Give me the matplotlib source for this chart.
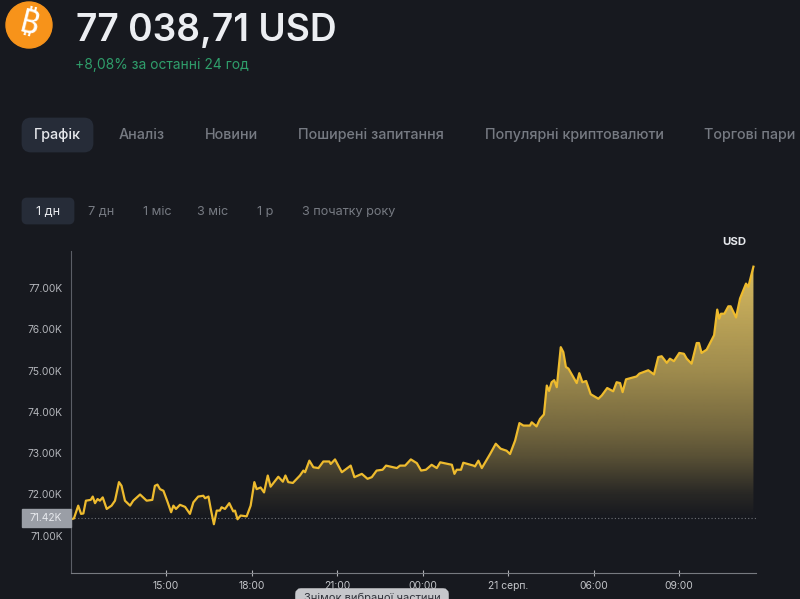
import numpy as np
import matplotlib
matplotlib.use('Agg')
import matplotlib.pyplot as plt
from matplotlib.patches import Circle, FancyBboxPatch, Rectangle

# hours counted from 00:00 on Aug 20, price in thousands of USD
hours = [
    11.67, 11.77, 11.92, 12.02, 12.10, 12.19, 12.36, 12.43, 12.51, 12.60, 12.68, 12.78, 12.92, 13.09, 13.21,
    13.35, 13.44, 13.56, 13.74, 13.85, 14.09, 14.32, 14.52, 14.61, 14.70, 14.79, 14.91, 15.06, 15.18, 15.26,
    15.35, 15.49, 15.67, 15.84, 15.96, 16.13, 16.31, 16.37, 16.49, 16.57, 16.68, 16.78, 16.89, 16.95, 17.07,
    17.22, 17.36, 17.42, 17.51, 17.62, 17.83, 17.97, 18.10, 18.18, 18.32, 18.44, 18.57,
    18.67, 18.94, 19.10, 19.19, 19.29, 19.45, 19.70, 19.82, 19.88, 20.03, 20.17, 20.35, 20.52, 20.73, 20.78,
    20.93, 21.17, 21.48, 21.61, 21.87, 22.07, 22.22, 22.39, 22.60, 22.72, 22.98, 23.10, 23.21, 23.39, 23.59,
    23.80, 23.95, 24.12, 24.32, 24.50, 24.62, 25.03, 25.12, 25.20, 25.35, 25.43, 25.79, 25.84, 25.96, 26.08,
    26.37, 26.57, 26.74, 26.95, 27.07, 27.25, 27.40, 27.54, 27.77,
    27.83, 28.00, 28.12, 28.26, 28.36, 28.44, 28.53, 28.62, 28.71, 28.85, 28.94, 29.03, 29.12, 29.41, 29.50,
    29.61, 29.74, 29.90, 30.17, 30.29, 30.48, 30.69, 30.81, 30.93, 31.02, 31.14, 31.51, 31.61, 31.92, 32.12,
    32.27, 32.39, 32.57, 32.68, 32.82, 33.01, 33.17, 33.27, 33.44, 33.62, 33.70, 33.79, 33.97, 34.23, 34.34,
    34.41, 34.47, 34.59, 34.73, 34.81, 35.00, 35.14, 35.35, 35.43, 35.61,
]
prices = [
    71.40, 71.42, 71.73, 71.53, 71.54, 71.85, 71.87, 71.95, 71.79, 71.89, 71.85, 71.93, 71.65, 71.73, 71.85,
    72.30, 72.21, 71.85, 71.73, 71.85, 72.00, 71.85, 71.87, 72.21, 72.24, 72.13, 72.09, 71.81, 71.57, 71.73,
    71.65, 71.75, 71.70, 71.53, 71.81, 71.95, 71.97, 71.91, 71.95, 71.65, 71.28, 71.61, 71.61, 71.69, 71.65,
    71.79, 71.59, 71.61, 71.40, 71.49, 71.47, 71.73, 72.30, 72.13, 72.17, 72.05, 72.46,
    72.19, 72.43, 72.31, 72.46, 72.30, 72.28, 72.46, 72.58, 72.54, 72.82, 72.66, 72.64, 72.80, 72.80, 72.74,
    72.85, 72.54, 72.70, 72.42, 72.50, 72.38, 72.42, 72.58, 72.60, 72.70, 72.66, 72.64, 72.70, 72.70, 72.85,
    72.76, 72.58, 72.60, 72.72, 72.64, 72.78, 72.72, 72.50, 72.60, 72.60, 72.77, 72.70, 72.68, 72.82, 72.64,
    72.98, 73.23, 73.11, 73.06, 72.98, 73.31, 73.73, 73.67, 73.67,
    73.75, 73.65, 73.83, 73.94, 74.64, 74.51, 74.72, 74.77, 74.60, 75.57, 75.45, 75.09, 75.05, 74.70, 74.94,
    74.72, 74.75, 74.43, 74.32, 74.40, 74.58, 74.50, 74.72, 74.70, 74.48, 74.79, 74.86, 74.93, 75.01, 74.91,
    75.33, 75.35, 75.19, 75.29, 75.23, 75.43, 75.41, 75.29, 75.17, 75.67, 75.67, 75.43, 75.51, 75.86, 76.48,
    76.26, 76.38, 76.38, 76.56, 76.56, 76.29, 76.75, 77.11, 77.03, 77.52,
]
baseline = 71.42
y_ticks = [71, 72, 73, 74, 75, 76, 77]
y_labels = ['71.00K', '72.00K', '73.00K', '74.00K', '75.00K', '76.00K', '77.00K']
x_ticks = [15, 18, 21, 24, 27, 30, 33]
x_labels = ['15:00', '18:00', '21:00', '00:00', '21 серп.', '06:00', '09:00']
tabs = ['Аналіз', 'Новини', 'Поширені запитання', 'Популярні криптовалюти', 'Торгові пари']
periods = ['7 дн', '1 міс', '3 міс', '1 р', 'З початку року']

plt.rcParams['font.family'] = ['Inter', 'DejaVu Sans']
BG = '#17191f'
W, H = 800, 599

fig = plt.figure(figsize=(W / 100, H / 100), dpi=100, facecolor=BG)

# chart area, placed in pixels
ax = fig.add_axes([71 / W, 1 - 572.5 / H, (756 - 71) / W, (572.5 - 251) / H], facecolor=BG)
ax.set_xlim(11.667, 35.70)
ax.set_ylim(70.11, 77.90)

# gradient under the line
levels = np.linspace(baseline, 77.6, 200)
alpha = np.interp(levels, [71.42, 72.0, 72.9, 73.55, 75.0, 77.5], [0, 0.09, 0.33, 0.46, 0.68, 0.95])
grad = np.zeros((200, 1, 4))
grad[:, 0, 0] = 225 / 255
grad[:, 0, 1] = 195 / 255
grad[:, 0, 2] = 100 / 255
grad[:, 0, 3] = alpha
poly = ax.fill_between(hours, prices, baseline, color='none', lw=0)
img = ax.imshow(grad, origin='lower', aspect='auto', interpolation='bilinear',
                extent=[hours[0], hours[-1], baseline, 77.6], zorder=1)
img.set_clip_path(poly.get_paths()[0], transform=ax.transData)
ax.set_xlim(11.667, 35.70)
ax.set_ylim(70.11, 77.90)

ax.axhline(baseline, color='#6f7278', lw=0.8, ls=(0, (1, 2)), zorder=2)
ax.plot(hours, prices, color='#eebb2e', lw=1.6, solid_joinstyle='round', zorder=3)

ax.spines['top'].set_visible(False)
ax.spines['right'].set_visible(False)
ax.spines['left'].set_color('#5b5e66')
ax.spines['bottom'].set_color('#777a80')
ax.set_yticks(y_ticks)
ax.set_yticklabels(y_labels)
ax.set_xticks(x_ticks)
ax.set_xticklabels(x_labels)
ax.tick_params(axis='y', length=0, pad=6, labelsize=7.4, labelcolor='#b4b6bb')
ax.tick_params(axis='x', direction='inout', length=4, width=0.8, color='#b0b2b6', pad=4, labelsize=7.4, labelcolor='#c4c6ca')

# page elements around the chart, in pixel coordinates
ui = fig.add_axes([0, 0, 1, 1], facecolor='none', zorder=5)
ui.set_xlim(0, W)
ui.set_ylim(H, 0)
ui.axis('off')

ui.add_patch(Circle((29, 25), 23, color='#f7931a'))
ui.text(29, 25.5, '₿', family=['Noto Sans', 'Roboto', 'Open Sans', 'Lato', 'Liberation Sans', 'DejaVu Sans'],
        fontweight='bold', color='white', fontsize=24, rotation=-14, ha='center', va='center')

ui.text(76, 41.5, '77 038,71 USD', color='#eceef2', fontsize=26.7, fontweight='semibold', va='baseline')
ui.text(75, 69, '+8,08% за останні 24 год', color='#2f9e6b', fontsize=9.95, va='baseline')

# tabs
ui.add_patch(FancyBboxPatch((23, 119), 69, 32, boxstyle='round,pad=0,rounding_size=8',
                            fc='#262c38', ec='#262c38', lw=2))
ui.text(57.5, 139, 'Графік', color='#e6e8ec', fontsize=10.3, fontweight='medium', ha='center', va='baseline')
for label, x in zip(tabs, [119, 205, 298, 485, 704]):
    ui.text(x, 139, label, color='#767a82', fontsize=10.3, fontweight='medium', va='baseline')

# period buttons
ui.add_patch(FancyBboxPatch((23, 199), 50, 24, boxstyle='round,pad=0,rounding_size=4', fc='#262c38', ec='#262c38', lw=2))
ui.text(48, 215, '1 дн', color='#e6e8ec', fontsize=9.1, ha='center', va='baseline')
for label, x in zip(periods, [101, 157, 213, 265, 349]):
    ui.text(x, 215, label, color='#767a82', fontsize=9.1, ha='center', va='baseline')

ui.text(734, 242, 'USD', color='#e6e8ec', fontsize=8.2, fontweight='bold', ha='center', va='center')

# current value badge on the y axis
ui.add_patch(Rectangle((22, 509), 49, 18, color='#9a9ea6'))
ui.text(62, 518, '71.42K', color='#e8eaee', fontsize=7.4, ha='right', va='center')

# button cut by the bottom edge
ui.add_patch(FancyBboxPatch((298, 591), 148, 20, boxstyle='round,pad=0,rounding_size=3', fc='#c6c7cb', ec='#c6c7cb', lw=4))
ui.text(372, 597.5, 'Знімок вибраної частини', color='#30323a', fontsize=8, ha='center', va='center', clip_on=True)

fig.savefig('out.png', dpi=100, facecolor=BG)
